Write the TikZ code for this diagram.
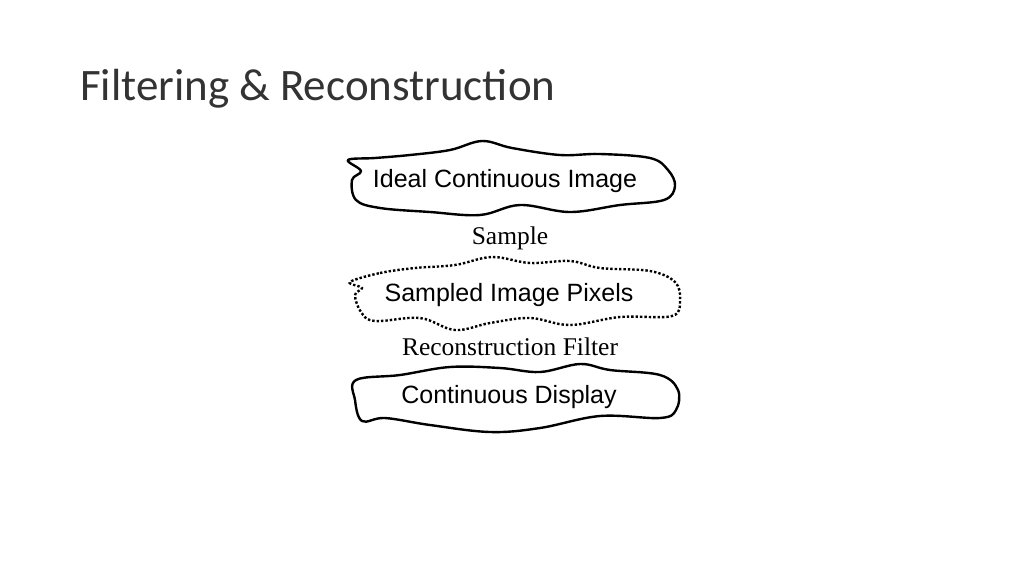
\documentclass[tikz,border=0pt]{standalone}
\usepackage{fontspec}
\setmainfont{Liberation Serif}
\newfontfamily\titlefont{Carlito}
\newfontfamily\arialf{Liberation Sans}
\begin{document}
\begin{tikzpicture}[x=1pt,y=-1pt,
  blob/.style={line width=2.4pt,line join=round},
  dotblob/.style={line width=2.4pt,dotted},
  lab/.style={font=\arialf\fontsize{25}{30}\selectfont},
  step label/.style={font=\fontsize{25.5}{30}\selectfont}]
\useasboundingbox[fill=white] (0,0) rectangle (1024,576);
\node[anchor=base west,inner sep=0pt,font=\titlefont\fontsize{45}{54}\selectfont\color{black!80}] (title) at (80,100) {Filtering \& Reconstruction};
\draw[blob] plot[smooth cycle,tension=0.6] coordinates {(348,160)(375,158)(410,155)(450,150)(482,141)(512,148)(560,155)(600,154)(650,158)(668,170)(675,186)(664,200)(620,205)(570,212)(520,205)(480,215)(430,212)(380,208)(356,200)(352,180)(361,171)};
\node[lab] (ideal) at (505,181) {Ideal Continuous Image};
\node[step label] (sample) at (510,238) {Sample};
\draw[dotblob] plot[smooth cycle,tension=0.6] coordinates {(350,282)(380,273)(415,268)(455,265)(492,257)(530,263)(570,261)(600,268)(650,271)(675,282)(680,300)(672,316)(620,317)(570,325)(530,318)(490,323)(455,330)(420,318)(375,321)(361,312)(355,295)(362,288)};
\node[lab] (pixels) at (509,295) {Sampled Image Pixels};
\node[step label] (recon) at (510,347) {Reconstruction Filter};
\draw[blob] plot[smooth cycle,tension=0.6] coordinates {(356,380)(400,375)(450,367)(500,368)(540,372)(580,364)(610,370)(660,375)(678,390)(676,410)(660,418)(600,416)(540,428)(490,432)(430,425)(385,418)(362,421)(355,400)};
\node[lab] (display) at (509,397) {Continuous Display};
\end{tikzpicture}
\end{document}
